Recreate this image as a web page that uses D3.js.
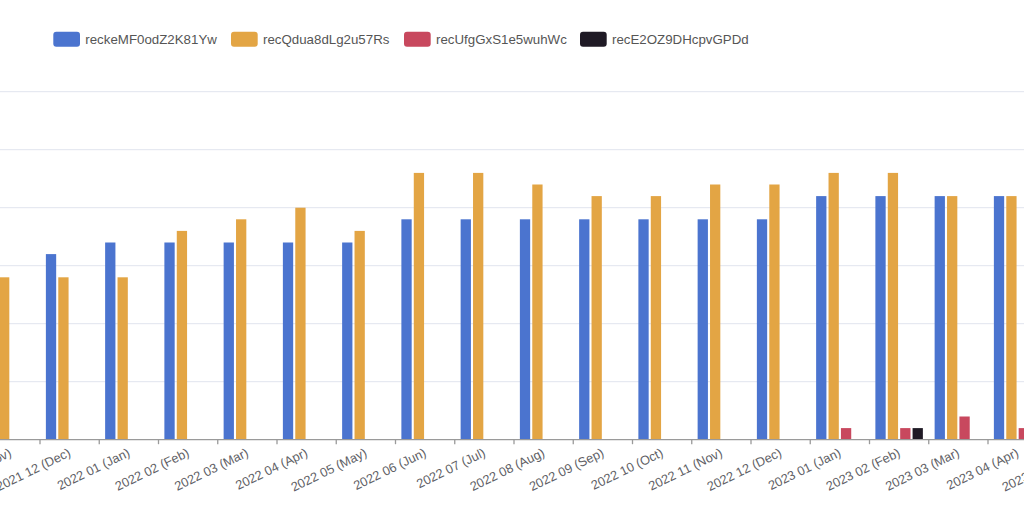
<!DOCTYPE html>
<html>
<head>
<meta charset="utf-8">
<script src="https://cdn.jsdelivr.net/npm/d3@7"></script>
<style>
  html, body { margin: 0; padding: 0; background: #fff; overflow: hidden; }
  svg { display: block; font-family: "Liberation Sans", Arial, Helvetica, sans-serif; }
</style>
</head>
<body>
<svg id="chart" width="1024" height="508"></svg>
<script>
// ---- data ----
const categories = [
  "2021 11 (Nov)", "2021 12 (Dec)", "2022 01 (Jan)", "2022 02 (Feb)", "2022 03 (Mar)",
  "2022 04 (Apr)", "2022 05 (May)", "2022 06 (Jun)", "2022 07 (Jul)", "2022 08 (Aug)",
  "2022 09 (Sep)", "2022 10 (Oct)", "2022 11 (Nov)", "2022 12 (Dec)", "2023 01 (Jan)",
  "2023 02 (Feb)", "2023 03 (Mar)", "2023 04 (Apr)", "2023 05 (May)"
];
const seriesNames = ["reckeMF0odZ2K81Yw", "recQdua8dLg2u57Rs", "recUfgGxS1e5wuhWc", "recE2OZ9DHcpvGPDd"];
const seriesColors = ["#4b74cf", "#e3a544", "#c8485e", "#1f1a25"];
const blueValues   = [16, 16, 17, 17, 17, 17, 17, 19, 19, 19, 19, 19, 19, 19, 21, 21, 21, 21, 21];
const orangeValues = [14, 14, 14, 18, 19, 20, 18, 23, 23, 22, 21, 21, 22, 22, 23, 23, 21, 21, 21];
const redValues    = [0, 0, 0, 0, 0, 0, 0, 0, 0, 0, 0, 0, 0, 0, 1, 1, 2, 1, 1];
const blackValues  = [0, 0, 0, 0, 0, 0, 0, 0, 0, 0, 0, 0, 0, 0, 0, 1, 0, 0, 0];
const yTicks = [0, 5, 10, 15, 20, 25, 30];

const seriesValues = [blueValues, orangeValues, redValues, blackValues];

// ---- layout ----
const svg = d3.select("#chart");
const baseY = 439.7, topY = 91.7;
const firstTick = 40, step = 59.25;

const x0 = d3.scaleBand()
  .domain(categories)
  .range([firstTick - step, firstTick - step + step * categories.length])
  .padding(0);

const groupW = 49.6;
const x1 = d3.scaleBand()
  .domain(seriesNames)
  .range([(step - groupW) / 2, (step + groupW) / 2])
  .paddingInner(0.17)
  .paddingOuter(0.085);

const y = d3.scaleLinear().domain([0, 30]).range([baseY, topY]);

// gridlines
svg.append("g").selectAll("line")
  .data(yTicks.filter(t => t > 0))
  .join("line")
  .attr("x1", 0).attr("x2", 1024)
  .attr("y1", d => y(d)).attr("y2", d => y(d))
  .attr("stroke", "#e1e4ee").attr("stroke-width", 1);

// bars
const groups = svg.append("g").selectAll("g")
  .data(categories)
  .join("g")
  .attr("transform", d => `translate(${x0(d)},0)`);

groups.selectAll("rect")
  .data((c, i) => seriesNames.map((s, k) => ({ s, k, v: seriesValues[k][i] })))
  .join("rect")
  .attr("x", d => x1(d.s))
  .attr("width", x1.bandwidth())
  .attr("y", d => y(d.v))
  .attr("height", d => Math.max(0, baseY - y(d.v)))
  .attr("fill", d => seriesColors[d.k]);

// x axis
const xAxisG = svg.append("g").attr("transform", `translate(0,${baseY})`);
xAxisG.append("line")
  .attr("x1", 0).attr("x2", 1024).attr("y1", 0).attr("y2", 0)
  .attr("stroke", "#9a9a9a").attr("stroke-width", 1.3);
xAxisG.selectAll("line.tick")
  .data(categories.slice(1))
  .join("line")
  .attr("class", "tick")
  .attr("x1", d => x0(d)).attr("x2", d => x0(d))
  .attr("y1", 0).attr("y2", 4.5)
  .attr("stroke", "#9a9a9a").attr("stroke-width", 1.3);

svg.append("g").selectAll("text")
  .data(categories)
  .join("text")
  .attr("transform", d => `translate(${x0(d) + x0.bandwidth() / 2 + 2},${baseY + 16}) rotate(-26)`)
  .attr("text-anchor", "end")
  .attr("font-size", 12.8)
  .attr("fill", "#5f5f66")
  .text(d => d);

// legend
const legendX = [53.3, 231, 404, 580];
const legend = svg.append("g");
seriesNames.forEach((s, k) => {
  const g = legend.append("g").attr("transform", `translate(${legendX[k]},31.7)`);
  g.append("rect").attr("width", 26.7).attr("height", 15).attr("rx", 3)
    .attr("fill", seriesColors[k]);
  g.append("text").attr("x", 32).attr("y", 12.3)
    .attr("font-size", 13.3).attr("fill", "#555").text(s);
});
</script>
</body>
</html>
